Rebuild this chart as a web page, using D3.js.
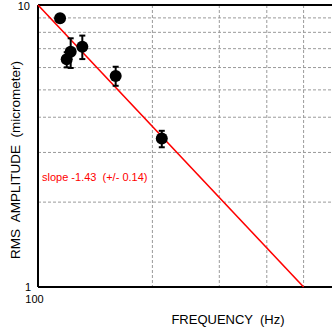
<!DOCTYPE html>
<html>
<head>
<meta charset="utf-8">
<script src="https://cdn.jsdelivr.net/npm/d3@7"></script>
<style>
  body { margin: 0; background: #fff; }
  svg { display: block; font-family: "Liberation Sans", Arial, sans-serif; }
</style>
</head>
<body>
<div id="chart"></div>
<script>
// data
var freq = [114.3, 119, 121.9, 130.8, 160.1, 211.7];
var amp = [8.97, 6.42, 6.83, 7.11, 5.6, 3.36];
var ampLow = [8.7, 6.01, 5.98, 6.43, 5.17, 3.13];
var ampHigh = [9.25, 6.8, 7.62, 7.79, 6.04, 3.58];

// fitted line end points
var fitFreq = [100, 500];
var fitAmp = [10, 1];

var xGrid = [200, 300, 400, 500];
var yGrid = [2, 3, 4, 5, 6, 7, 8, 9];

var svgWidth = 332;
var svgHeight = 327;

var margin = { top: 5, left: 38 };
var plotWidth = 296;
var plotHeight = 282;

var svg = d3.select("#chart")
  .append("svg")
  .attr("width", svgWidth)
  .attr("height", svgHeight);

var g = svg.append("g")
  .attr("transform", `translate(${margin.left}, ${margin.top})`);

var x = d3.scaleLog()
  .domain([100, 100 * Math.pow(10, plotWidth / 380)])
  .range([0, plotWidth]);

var y = d3.scaleLog()
  .domain([1, 10])
  .range([plotHeight, 0]);

// grid
g.selectAll(".vgrid")
  .data(xGrid)
  .enter()
  .append("line")
  .attr("x1", d => x(d))
  .attr("x2", d => x(d))
  .attr("y1", 0)
  .attr("y2", plotHeight)
  .attr("stroke", "#9a9a9a")
  .attr("stroke-width", 1)
  .attr("stroke-dasharray", "3,2");

g.selectAll(".hgrid")
  .data(yGrid)
  .enter()
  .append("line")
  .attr("x1", 0)
  .attr("x2", plotWidth)
  .attr("y1", d => y(d))
  .attr("y2", d => y(d))
  .attr("stroke", "#9a9a9a")
  .attr("stroke-width", 1)
  .attr("stroke-dasharray", "3,2");

// frame: left, bottom, top
g.append("line")
  .attr("x1", 0).attr("x2", 0)
  .attr("y1", 0).attr("y2", plotHeight)
  .attr("stroke", "black").attr("stroke-width", 2);
g.append("line")
  .attr("x1", 0).attr("x2", plotWidth)
  .attr("y1", plotHeight).attr("y2", plotHeight)
  .attr("stroke", "black").attr("stroke-width", 2);
g.append("line")
  .attr("x1", 0).attr("x2", plotWidth)
  .attr("y1", 0).attr("y2", 0)
  .attr("stroke", "black").attr("stroke-width", 2);

// fit line
var fitData = fitFreq.map((f, i) => [f, fitAmp[i]]);
g.append("path")
  .datum(fitData)
  .attr("d", d3.line().x(d => x(d[0])).y(d => y(d[1])))
  .attr("stroke", "#ff0000")
  .attr("stroke-width", 1.6)
  .attr("fill", "none");

// error bars
var points = freq.map((f, i) => ({ f: f, a: amp[i], lo: ampLow[i], hi: ampHigh[i] }));

var bars = g.selectAll(".err")
  .data(points)
  .enter()
  .append("g");

bars.append("line")
  .attr("x1", d => x(d.f)).attr("x2", d => x(d.f))
  .attr("y1", d => y(d.lo)).attr("y2", d => y(d.hi))
  .attr("stroke", "black").attr("stroke-width", 2);
bars.append("line")
  .attr("x1", d => x(d.f) - 3).attr("x2", d => x(d.f) + 3)
  .attr("y1", d => y(d.lo)).attr("y2", d => y(d.lo))
  .attr("stroke", "black").attr("stroke-width", 2);
bars.append("line")
  .attr("x1", d => x(d.f) - 3).attr("x2", d => x(d.f) + 3)
  .attr("y1", d => y(d.hi)).attr("y2", d => y(d.hi))
  .attr("stroke", "black").attr("stroke-width", 2);

g.selectAll("circle")
  .data(points)
  .enter()
  .append("circle")
  .attr("cx", d => x(d.f))
  .attr("cy", d => y(d.a))
  .attr("r", 6)
  .attr("fill", "black");

// tick labels
svg.append("text")
  .attr("x", 30).attr("y", 10)
  .attr("text-anchor", "end")
  .attr("font-size", "11px")
  .text("10");
svg.append("text")
  .attr("x", 31).attr("y", 291)
  .attr("text-anchor", "end")
  .attr("font-size", "11px")
  .text("1");
svg.append("text")
  .attr("x", 34.5).attr("y", 303)
  .attr("text-anchor", "middle")
  .attr("font-size", "11px")
  .text("100");

// slope text
svg.append("text")
  .attr("x", 42).attr("y", 181)
  .attr("fill", "#ff0000")
  .attr("font-size", "11px")
  .style("white-space", "pre")
  .text("slope -1.43  (+/- 0.14)");

// axis titles
svg.append("text")
  .attr("x", 228).attr("y", 324)
  .attr("text-anchor", "middle")
  .attr("font-size", "13px")
  .style("white-space", "pre")
  .text("FREQUENCY  (Hz)");

svg.append("text")
  .attr("transform", "translate(20, 160) rotate(-90)")
  .attr("text-anchor", "middle")
  .attr("font-size", "13.5px")
  .style("white-space", "pre")
  .text("RMS  AMPLITUDE  (micrometer)");
</script>
</body>
</html>
